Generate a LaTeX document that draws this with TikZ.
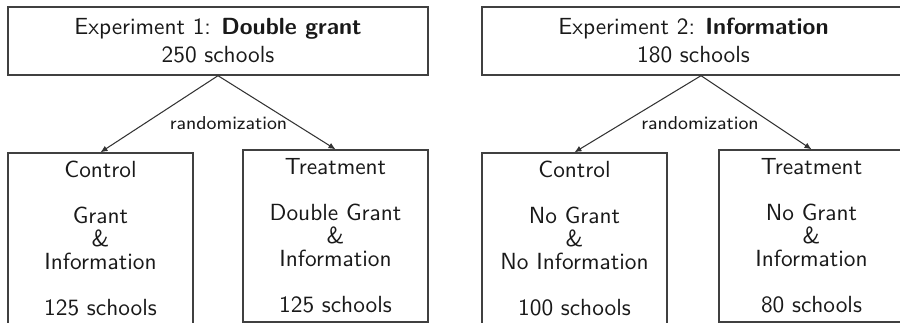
\documentclass[tikz,border=0pt]{standalone}
\usepackage{fontspec}
\usetikzlibrary{arrows.meta}
\begin{document}
\begin{tikzpicture}[x=0.42857pt,y=-0.42857pt,
  every node/.style={font=\sffamily\fontsize{10}{12}\selectfont, text=black!90},
  topbox/.style={draw=black!75, line width=0.6pt, minimum height=29.14pt, inner sep=0pt, align=center},
  armbox/.style={draw=black!75, line width=0.6pt, minimum width=79.29pt, minimum height=73.71pt, inner sep=0pt, align=center,
     font=\sffamily\fontsize{10}{9.86}\selectfont},
  randlabel/.style={font=\sffamily\fontsize{8}{9.6}\selectfont, inner sep=0pt, anchor=base},
  arrowline/.style={draw=black!80, line width=0.45pt, -{Latex[length=3pt,width=2.6pt]}}
]
\useasboundingbox (0,0) rectangle (900,323);
\begin{scope}
\clip (0,0) rectangle (900,323);
\node[topbox, minimum width=180pt] (top1) at (218,41) {Experiment 1: \textbf{Double grant}\\250 schools};
\node[topbox, minimum width=187.7pt] (top2) at (701,41) {Experiment 2: \textbf{Information}\hspace*{6.4pt}\\180 schools\hspace*{6.4pt}};

\node[armbox] (ctrl1) at (100.5,239) {Control\\[9.86pt]Grant\\\&\\Information\\[9.86pt]125 schools};
\node[armbox] (treat1) at (335.5,236) {Treatment\\[9.86pt]Double Grant\\\&\\Information\\[9.86pt]125 schools};
\node[armbox] (ctrl2) at (574.5,239) {Control\\[9.86pt]No Grant\\\&\\No Information\\[9.86pt]100 schools};
\node[armbox] (treat2) at (811.5,236) {Treatment\\[9.86pt]No Grant\\\&\\Information\\[9.86pt]80 schools};

\node[randlabel] (rand1) at (228.5,130) {randomization};
\node[randlabel] (rand2) at (700,130) {randomization};

\draw[arrowline] (top1.south) -- (ctrl1.north);
\draw[arrowline] (top1.south) -- (treat1.north);
\draw[arrowline] (top2.south) -- (ctrl2.north);
\draw[arrowline] (top2.south) -- (treat2.north);
\end{scope}
\end{tikzpicture}
\end{document}
